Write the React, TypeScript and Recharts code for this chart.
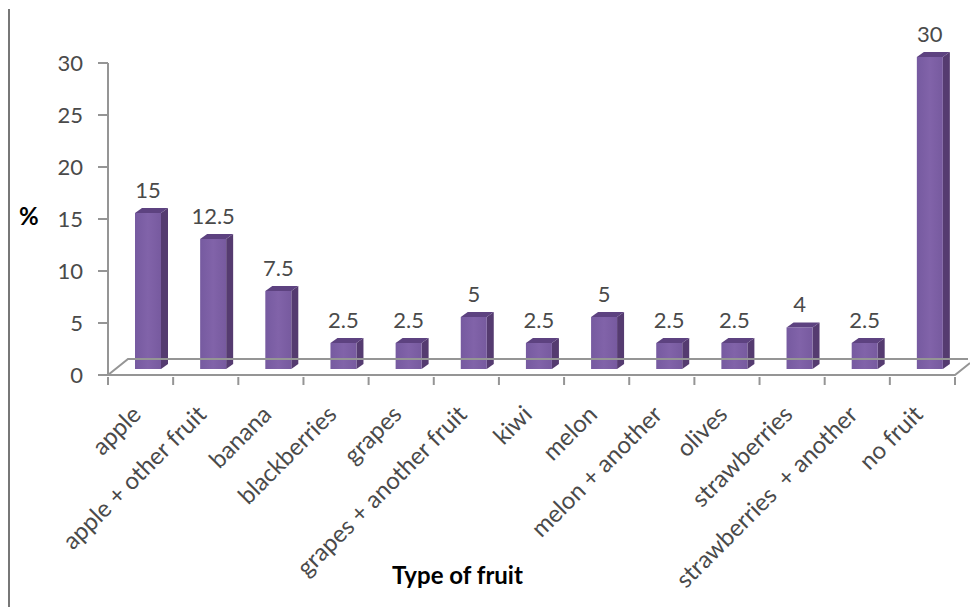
import { BarChart, Bar, XAxis, YAxis, LabelList, ReferenceLine } from 'recharts';

const fruits = [
  'apple',
  'apple + other fruit',
  'banana',
  'blackberries',
  'grapes',
  'grapes + another fruit',
  'kiwi',
  'melon',
  'melon + another',
  'olives',
  'strawberries',
  'strawberries  + another',
  'no fruit',
];
const percents = [15, 12.5, 7.5, 2.5, 2.5, 5, 2.5, 5, 2.5, 2.5, 4, 2.5, 30];
const yTicks = [0, 5, 10, 15, 20, 25, 30];

const chartData = fruits.map((name, i) => ({ name, value: percents[i] }));

const FONT = 'Lato, sans-serif';
const AXIS_COLOR = '#959595';
const TEXT_COLOR = '#4a4a4a';
const BAND = 847 / fruits.length;
// the 3D look: front faces sit forward of the band centre and lifted off the axis
const SHIFT_X = 7;
const LIFT = 6;
const DEPTH_X = 7;
const DEPTH_Y = 5;

const Bar3D = ({ x, y, width, height }: any) => {
  const fx = x + SHIFT_X;
  const fy = y - LIFT;
  const r = fx + width;
  const b = fy + height;
  return (
    <g>
      <path
        d={`M${r} ${fy} L${r + DEPTH_X} ${fy - DEPTH_Y} L${r + DEPTH_X} ${b - DEPTH_Y} L${r} ${b} Z`}
        fill="#553b70"
      />
      <path
        d={`M${fx} ${fy} L${fx + DEPTH_X} ${fy - DEPTH_Y} L${r + DEPTH_X} ${fy - DEPTH_Y} L${r} ${fy} Z`}
        fill="#5d4280"
      />
      <rect x={fx} y={fy} width={width} height={height} fill="url(#barFront)" />
    </g>
  );
};

const ValueLabel = ({ x, y, width, value }: any) => (
  <text
    x={x + width / 2 + SHIFT_X}
    y={y - LIFT - 15}
    textAnchor="middle"
    fontFamily={FONT}
    fontSize={22}
    fill={TEXT_COLOR}
  >
    {value}
  </text>
);

const FruitTick = ({ x, y, payload, index }: any) => (
  <g>
    {index === 0 && <line x1={x - BAND / 2} y1={y} x2={x - BAND / 2} y2={y + 8} stroke={AXIS_COLOR} strokeWidth={2} />}
    <line x1={x + BAND / 2} y1={y} x2={x + BAND / 2} y2={y + 8} stroke={AXIS_COLOR} strokeWidth={2} />
    <text
      x={x + 2}
      y={y + 39}
      textAnchor="end"
      fontFamily={FONT}
      fontSize={24}
      fill={TEXT_COLOR}
      style={{ whiteSpace: 'pre' }}
      transform={`rotate(-45 ${x + 2} ${y + 39})`}
    >
      {payload.value}
    </text>
  </g>
);

// x axis line plus the receding edges of the floor, back edge included
const Floor = ({ x1, y1, x2 }: any) => (
  <path
    d={`M${x1} ${y1} L${x2} ${y1} L${x2 + 15} ${y1 - 12} M${x1} ${y1} L${x1 + 20} ${y1 - 16} L${x2 + 13} ${y1 - 16}`}
    fill="none"
    stroke={AXIS_COLOR}
    strokeWidth={2}
  />
);

export default function App() {
  return (
    <div style={{ position: 'absolute', left: 0, top: 0, width: 970, height: 607, background: '#fff' }}>
      <div style={{ position: 'absolute', left: 8, top: 9, width: 2, height: 598, background: '#777' }} />
      <BarChart
        width={970}
        height={607}
        data={chartData}
        margin={{ top: 63, right: 15, bottom: 0, left: 48 }}
        barSize={26}
      >
        <defs>
          <linearGradient id="barFront" x1="0" y1="0" x2="1" y2="0">
            <stop offset="0%" stopColor="#765aa0" />
            <stop offset="50%" stopColor="#8163a9" />
            <stop offset="100%" stopColor="#775a9f" />
          </linearGradient>
        </defs>
        <XAxis
          dataKey="name"
          interval={0}
          height={232}
          axisLine={false}
          tickLine={false}
          tick={<FruitTick />}
          tickSize={0}
        />
        <YAxis
          type="number"
          domain={[0, 30]}
          ticks={yTicks}
          width={60}
          axisLine={{ stroke: AXIS_COLOR, strokeWidth: 2 }}
          tickLine={{ stroke: AXIS_COLOR, strokeWidth: 2 }}
          tickSize={10}
          tickMargin={15}
          tick={{ fontFamily: FONT, fontSize: 22, fill: TEXT_COLOR }}
        />
        <ReferenceLine y={0} shape={<Floor />} />
        <Bar dataKey="value" shape={<Bar3D />} isAnimationActive={false}>
          <LabelList dataKey="value" content={<ValueLabel />} />
        </Bar>
        <text x={19} y={225} fontFamily={FONT} fontWeight={700} fontSize={24} fill="#000">
          %
        </text>
        <text x={392} y={584} fontFamily={FONT} fontWeight={700} fontSize={24} fill="#000">
          Type of fruit
        </text>
      </BarChart>
    </div>
  );
}
